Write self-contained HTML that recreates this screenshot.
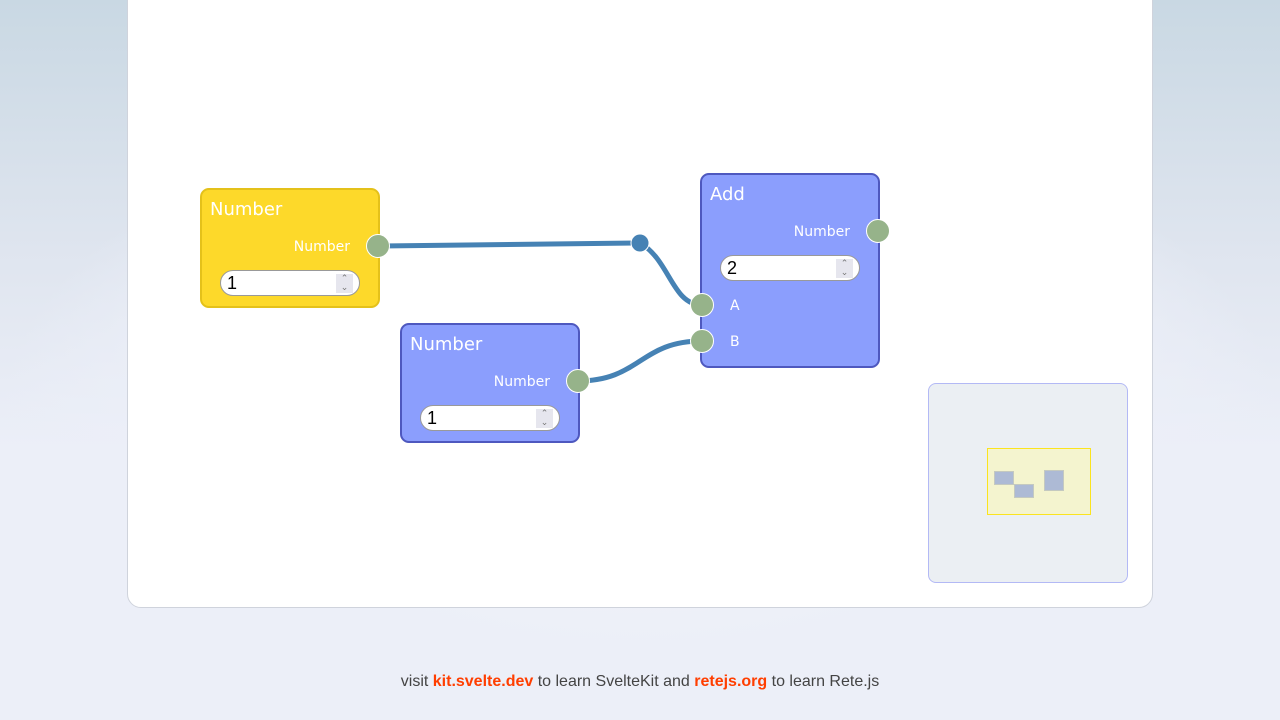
<!DOCTYPE html>
<html><head><meta charset="utf-8"><style>
html,body{margin:0;width:1280px;height:720px;overflow:hidden;font-family:"DejaVu Sans","Liberation Sans",sans-serif}
body{background:radial-gradient(ellipse 640px 330px at 640px 420px,#f4f5fb 0%,#eceff8 70%,rgba(236,239,248,0) 100%),linear-gradient(#c9d8e3 0px,#dfe5ef 250px,#eceff8 450px,#eceff8 720px)}
.wrap{position:absolute;left:127px;top:-20px;width:1024px;height:626px;background:#fff;border:1px solid #cfd3dc;border-radius:14px}
.node{position:absolute;width:180px;border-radius:9px;border:2px solid;box-sizing:border-box}
.y{background:#fdd92a;border-color:#e4c11a}
.b{background:#8b9efd;border-color:#4e58bf}
.t{position:absolute;left:8px;top:9px;color:#fff;font-size:18px}
.ol{position:absolute;right:28px;color:#fff;font-size:14px}
.il{position:absolute;left:28px;color:#fff;font-size:14px}
.inp{position:absolute;left:18px;width:140px;height:26px;background:#fff;border:1px solid #999;border-radius:13px;font-family:"Liberation Sans",sans-serif;font-size:18px;line-height:25px;padding-left:6px;box-sizing:border-box}
.inp i{position:absolute;right:6px;top:3px;width:17px;height:19px;background:#e6e6ee;font-style:normal;font-size:9px;color:#777;text-align:center;line-height:9px}
.sock{position:absolute;width:24px;height:24px;border-radius:50%;background:#96b38a;border:1px solid #fff;box-sizing:border-box}
.foot{position:absolute;top:673px;width:1280px;text-align:center;font-family:"Liberation Sans",sans-serif;font-size:16px;color:#444}
.foot b{color:#ff3e00}
</style></head><body>
<div class="wrap"></div>
<svg style="position:absolute;left:0;top:0" width="1280" height="720">
<path d="M378 246 L640 243" stroke="#4682b4" stroke-width="5" fill="none"/>
<path d="M640 243 C670 260,672 305,702 305" stroke="#4682b4" stroke-width="5" fill="none"/>
<path d="M578 381 C640 381,640 341,702 341" stroke="#4682b4" stroke-width="5" fill="none"/>
<circle cx="640" cy="243" r="9" fill="#4682b4" stroke="#fff" stroke-width="1"/>
</svg>
<div class="node y" style="left:200px;top:188px;height:120px"><div class="t">Number</div><div class="ol" style="top:49px">Number</div><div class="inp" style="top:80px">1<i>⌃<br>⌄</i></div></div>
<div class="node b" style="left:400px;top:323px;height:120px"><div class="t">Number</div><div class="ol" style="top:49px">Number</div><div class="inp" style="top:80px">1<i>⌃<br>⌄</i></div></div>
<div class="node b" style="left:700px;top:173px;height:195px"><div class="t">Add</div><div class="ol" style="top:49px">Number</div><div class="inp" style="top:80px">2<i>⌃<br>⌄</i></div><div class="il" style="top:123px">A</div><div class="il" style="top:159px">B</div></div>
<div class="sock" style="left:366px;top:234px"></div>
<div class="sock" style="left:566px;top:369px"></div>
<div class="sock" style="left:866px;top:219px"></div>
<div class="sock" style="left:690px;top:293px"></div>
<div class="sock" style="left:690px;top:329px"></div>
<div style="position:absolute;left:928px;top:383px;width:200px;height:200px;box-sizing:border-box;border:1px solid #b3b9f5;border-radius:8px;background:#ebeff3"></div>
<div style="position:absolute;left:987px;top:448px;width:104px;height:67px;box-sizing:border-box;border:1px solid #fbe41e;background:#f4f4cf"></div>
<div style="position:absolute;left:994px;top:471px;width:20px;height:14px;background:#adbad5;border:1px solid #c4c9c0;box-sizing:border-box"></div>
<div style="position:absolute;left:1014px;top:484px;width:20px;height:14px;background:#adbad5;border:1px solid #c4c9c0;box-sizing:border-box"></div>
<div style="position:absolute;left:1044px;top:470px;width:20px;height:21px;background:#adbad5;border:1px solid #c4c9c0;box-sizing:border-box"></div>
<div class="foot">visit <b>kit.svelte.dev</b> to learn SvelteKit and <b>retejs.org</b> to learn Rete.js</div>
</body></html>
